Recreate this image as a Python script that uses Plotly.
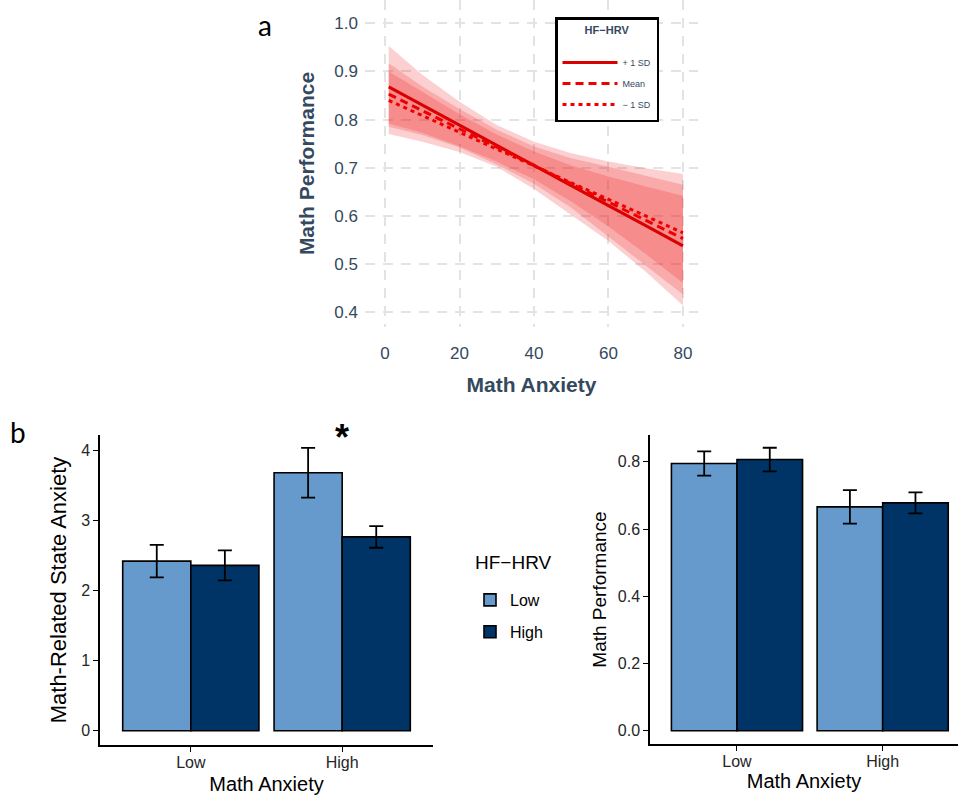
import plotly.graph_objects as go

# ---------------- Panel a data ----------------
anx_x = [1, 10, 20, 30, 40, 50, 60, 70, 80]
perf_plus1sd = [0.868, 0.830, 0.789, 0.747, 0.705, 0.663, 0.622, 0.580, 0.538]
perf_mean = [0.853, 0.819, 0.781, 0.743, 0.705, 0.667, 0.629, 0.591, 0.553]
perf_minus1sd = [0.840, 0.809, 0.774, 0.739, 0.704, 0.669, 0.635, 0.600, 0.565]

band_plus_hi = [0.953, 0.893, 0.837, 0.789, 0.754, 0.730, 0.713, 0.699, 0.687]
band_plus_lo = [0.770, 0.754, 0.733, 0.702, 0.656, 0.602, 0.548, 0.484, 0.414]
band_mean_hi = [0.917, 0.869, 0.822, 0.779, 0.744, 0.720, 0.702, 0.683, 0.665]
band_mean_lo = [0.785, 0.768, 0.742, 0.707, 0.667, 0.617, 0.558, 0.497, 0.437]
band_minus_hi = [0.900, 0.857, 0.811, 0.769, 0.734, 0.705, 0.682, 0.661, 0.642]
band_minus_lo = [0.792, 0.773, 0.745, 0.713, 0.676, 0.630, 0.578, 0.521, 0.461]

line_names = ["+ 1 SD", "Mean", "\u2212 1 SD"]

# ---------------- Panel b data ----------------
anx_groups = ["Low", "High"]
hrv_levels = ["Low", "High"]
state_anx_low_hrv = [2.424, 3.686]
state_anx_low_hrv_se = [0.232, 0.355]
state_anx_high_hrv = [2.363, 2.770]
state_anx_high_hrv_se = [0.215, 0.155]
math_perf_low_hrv = [0.795, 0.666]
math_perf_low_hrv_se = [0.036, 0.050]
math_perf_high_hrv = [0.807, 0.678]
math_perf_high_hrv_se = [0.035, 0.031]

LIGHT = "#6699CC"
DARK = "#003366"
SLATE = "#34495e"
FONT = "Liberation Sans, Arial, sans-serif"
W, H = 958, 795

fig = go.Figure()

# bands (closed polygons)
for hi, lo in [(band_plus_hi, band_plus_lo), (band_mean_hi, band_mean_lo), (band_minus_hi, band_minus_lo)]:
    fig.add_trace(go.Scatter(
        x=anx_x + anx_x[::-1], y=hi + lo[::-1], fill="toself",
        fillcolor="rgba(240,20,20,0.2)", line=dict(width=0), mode="lines",
        showlegend=False, hoverinfo="skip", xaxis="x", yaxis="y"))

line_styles = [("solid", "#d90000"), ("8px,5px", "#ee0000"), ("4px,4px", "#ee0000")]
for name, ys, (dash, col) in zip(line_names, [perf_plus1sd, perf_mean, perf_minus1sd], line_styles):
    fig.add_trace(go.Scatter(
        x=anx_x, y=ys, mode="lines", name=name, legendgroup=name,
        line=dict(color=col, width=3, dash=dash), xaxis="x", yaxis="y", legend="legend"))

# bars
for i, (vals, se, col, lvl) in enumerate([
        (state_anx_low_hrv, state_anx_low_hrv_se, LIGHT, hrv_levels[0]),
        (state_anx_high_hrv, state_anx_high_hrv_se, DARK, hrv_levels[1])]):
    fig.add_trace(go.Bar(
        x=anx_groups, y=vals, name=lvl, legendgroup=lvl, offsetgroup=str(i),
        marker=dict(color=col, line=dict(color="black", width=1.6)),
        error_y=dict(type="data", array=se, color="black", thickness=1.8, width=7),
        xaxis="x2", yaxis="y2", legend="legend2", showlegend=True))
for i, (vals, se, col, lvl) in enumerate([
        (math_perf_low_hrv, math_perf_low_hrv_se, LIGHT, hrv_levels[0]),
        (math_perf_high_hrv, math_perf_high_hrv_se, DARK, hrv_levels[1])]):
    fig.add_trace(go.Bar(
        x=anx_groups, y=vals, name=lvl, legendgroup=lvl, offsetgroup=str(i),
        marker=dict(color=col, line=dict(color="black", width=1.6)),
        error_y=dict(type="data", array=se, color="black", thickness=1.8, width=7),
        xaxis="x3", yaxis="y3", legend="legend2", showlegend=False))

grid = dict(showgrid=True, gridcolor="#e3e3e3", gridwidth=1.5, griddash="10px,8px",
            zeroline=False, showline=False, ticks="", automargin=False)

bar_axis = dict(showline=True, linecolor="black", linewidth=1.5, ticks="outside",
                ticklen=5, tickwidth=1.2, tickcolor="black", showgrid=False,
                zeroline=False, automargin=False,
                tickfont=dict(size=16, color="#262626", family=FONT))

fig.update_layout(
    width=W, height=H, autosize=False,
    margin=dict(l=0, r=0, t=0, b=0),
    paper_bgcolor="white", plot_bgcolor="white",
    font=dict(family=FONT),
    barmode="group", bargap=0.1, bargroupgap=0,
    xaxis=dict(domain=[365 / W, 698 / W], range=[-5.37, 84.03], anchor="y",
               tickvals=[0, 20, 40, 60, 80],
               tickfont=dict(size=17, color=SLATE), ticklabelstandoff=14,
               title=dict(text="<b>Math Anxiety</b>", font=dict(size=21, color=SLATE), standoff=15),
               **grid),
    yaxis=dict(domain=[1 - 327 / H, 1.0], range=[0.3695, 1.0484], anchor="x",
               tickvals=[0.4, 0.5, 0.6, 0.7, 0.8, 0.9, 1.0], tickformat=".1f",
               tickfont=dict(size=17, color=SLATE), ticklabelstandoff=6,
               title=dict(text="<b>Math Performance</b>", font=dict(size=21, color=SLATE), standoff=14),
               **grid),
    xaxis2=dict(domain=[100 / W, 433 / W], range=[-0.6, 1.6], anchor="y2", type="category",
                ticklabelstandoff=-3,
                title=dict(text="Math Anxiety", font=dict(size=20, color="black"), standoff=7),
                **bar_axis),
    yaxis2=dict(domain=[1 - 745 / H, 1 - 435 / H], range=[-0.204, 4.226], anchor="x2",
                dtick=1, tick0=0,
                title=dict(text="Math-Related State Anxiety", font=dict(size=22, color="black"), standoff=8),
                **bar_axis),
    xaxis3=dict(domain=[650 / W, 1.0], range=[-0.597, 1.517], anchor="y3", type="category",
                ticklabelstandoff=-3,
                title=dict(text="Math Anxiety", font=dict(size=20, color="black"), standoff=5),
                **bar_axis),
    yaxis3=dict(domain=[1 - 744 / H, 1 - 435 / H], range=[-0.0396, 0.880], anchor="x3",
                dtick=0.2, tick0=0, tickformat=".1f",
                title=dict(text="Math Performance", font=dict(size=19, color="black"), standoff=6),
                **bar_axis),
    legend=dict(x=555 / W, y=1 - 17 / H, xanchor="left", yanchor="top",
                bgcolor="white", bordercolor="black", borderwidth=2.5,
                font=dict(size=9, color=SLATE), itemwidth=55, tracegroupgap=2,
                title=dict(text="<b>HF\u2212HRV</b><br> ", side="top center",
                           font=dict(size=11, color=SLATE))),
    legend2=dict(x=470 / W, y=1 - 583 / H, xanchor="left", yanchor="top",
                 bgcolor="rgba(0,0,0,0)", borderwidth=0,
                 font=dict(size=16, color="black"), tracegroupgap=8),
    annotations=[
        dict(text="HF\u2212HRV", x=473 / W, y=1 - 562 / H, xref="paper", yref="paper",
             xanchor="left", yanchor="middle", showarrow=False,
             font=dict(size=19, color="black")),
        dict(text="a", x=265 / W, y=1 - 25 / H, xref="paper", yref="paper",
             xanchor="center", yanchor="middle",
             showarrow=False, font=dict(size=28, family="Lato, Open Sans", color="black")),
        dict(text="b", x=18 / W, y=1 - 432 / H, xref="paper", yref="paper",
             xanchor="center", yanchor="middle",
             showarrow=False, font=dict(size=28, family="Lato, Open Sans", color="black")),
        dict(text="<b>*</b>", x="High", xref="x2", y=1 - 437 / H, yref="paper",
             xanchor="center", yanchor="middle",
             showarrow=False, font=dict(size=36, color="black")),
    ],
)

fig.write_html("out.html", config={"displayModeBar": False},
               post_script="document.body.style.margin='0';")
